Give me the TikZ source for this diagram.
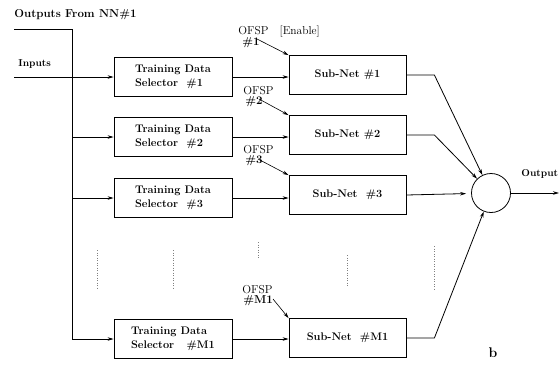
\documentclass[tikz,border=0pt]{standalone}
\usetikzlibrary{arrows.meta,calc}
\begin{document}
\begin{tikzpicture}[x=1pt,y=-1pt,
  line width=0.8pt,
  arr/.style={-{Stealth[length=6pt,width=3.5pt]}},
  selbox/.style={draw,minimum width=118pt,minimum height=39pt,inner sep=0pt,
    align=left,font=\bfseries\fontsize{11}{13.5}\selectfont},
  netbox/.style={draw,minimum width=117pt,minimum height=39pt,inner sep=0pt,
    font=\bfseries\fontsize{11}{13}\selectfont},
  lbl/.style={inner sep=0pt,font=\bfseries\fontsize{10}{12}\selectfont},
  ofsp/.style={inner sep=0pt,align=left,font=\fontsize{11.5}{10}\selectfont},
  dots/.style={dotted,line width=0.5pt,gray}]
\useasboundingbox (0,0) rectangle (560,365);

% training data selectors
\node[selbox] (sel1) at (173,77)  {Training Data\\Selector\ \ \#1};
\node[selbox] (sel2) at (173,137) {Training Data\\Selector\ \ \#2};
\node[selbox] (sel3) at (173,198) {Training Data\\Selector\ \ \#3};
\node[selbox] (selM) at (173,339) {Training Data\\Selector\ \ \ \#M1};

% sub-networks
\node[netbox] (sub1) at (347.5,75)  {Sub-Net \#1};
\node[netbox] (sub2) at (347.5,135) {Sub-Net \#2};
\node[netbox] (sub3) at (347.5,195) {Sub-Net\ \ \#3};
\node[netbox] (subM) at (347.5,338) {Sub-Net\ \ \#M1};

% combining unit
\node[draw,circle,minimum size=39pt,inner sep=0pt] (sum) at (491,193) {};
\coordinate (out) at (559,193);

% input labels and bus
\node[lbl,anchor=base west,font=\bfseries\fontsize{11.5}{13}\selectfont] (nnlbl) at (14,17) {Outputs From NN\#1};
\node[lbl,anchor=base west] (inlbl) at (18,66) {Inputs};
\coordinate (nn0) at (14,29);
\coordinate (bus0) at (72,29);
\coordinate (in0) at (14,77);
\draw (nn0) -- (bus0) -- (bus0 |- selM.west);
\draw[arr] (bus0 |- selM.west) -- (selM.west);
\draw[arr] (in0) -- (sel1.west);
\draw[arr] (bus0 |- sel2.west) -- (sel2.west);
\draw[arr] (bus0 |- sel3.west) -- (sel3.west);

% selector -> sub-net
\foreach \i in {1,2,3,M}{
  \draw[arr] (sel\i.east) -- (sel\i.east -| sub\i.west);
}

% sub-net -> combining unit
\draw[arr] (sub1.east) -- ([xshift=28pt]sub1.east) -- (sum);
\draw[arr] (sub2.east) -- ([xshift=28pt]sub2.east) -- (sum);
\draw[arr,shorten >=5pt] (sub3.east) -- (sum);
\draw[arr] (subM.east) -- ([xshift=28pt]subM.east) -- (sum);
\draw[arr] (sum) -- (out);
\node[lbl,anchor=base west] (outlbl) at (521,176) {Output};

% OFSP enable inputs
\node[ofsp,anchor=north west] (of1) at (238,25) {OFSP\ \ \ [Enable]\\\hspace{4pt}\textbf{\#1}};
\node[ofsp,anchor=north west] (of2) at (243,86) {OFSP\\\hspace{2pt}\textbf{\#2}};
\node[ofsp,anchor=north west] (of3) at (243,145) {OFSP\\\hspace{2pt}\textbf{\#3}};
\node[ofsp,anchor=north west] (ofM) at (242,285) {OFSP\\\hspace{1pt}\textbf{\#M1}};
\coordinate (o1) at (257,39);
\coordinate (o2) at (259,99);
\coordinate (o3) at (258,159);
\coordinate (oM) at (273,299);
\draw[arr,line width=0.6pt] (o1) -- (sub1.north west);
\draw[arr,line width=0.6pt] (o2) -- (sub2.north west);
\draw[arr,line width=0.6pt] (o3) -- (sub3.north west);
\draw[arr,line width=0.6pt] (oM) -- (subM.north west);

% omitted rows
\draw[dots] (97,250) -- (97,288);
\draw[dots] (173,250) -- (173,288);
\draw[dots] (258,242) -- (258,258);
\draw[dots] (347,255) -- (347,286);
\draw[dots] (434,246) -- (434,290);

\node[font=\bfseries\fontsize{14}{16}\selectfont,inner sep=0pt] (tag) at (493,353) {b};
\end{tikzpicture}
\end{document}
